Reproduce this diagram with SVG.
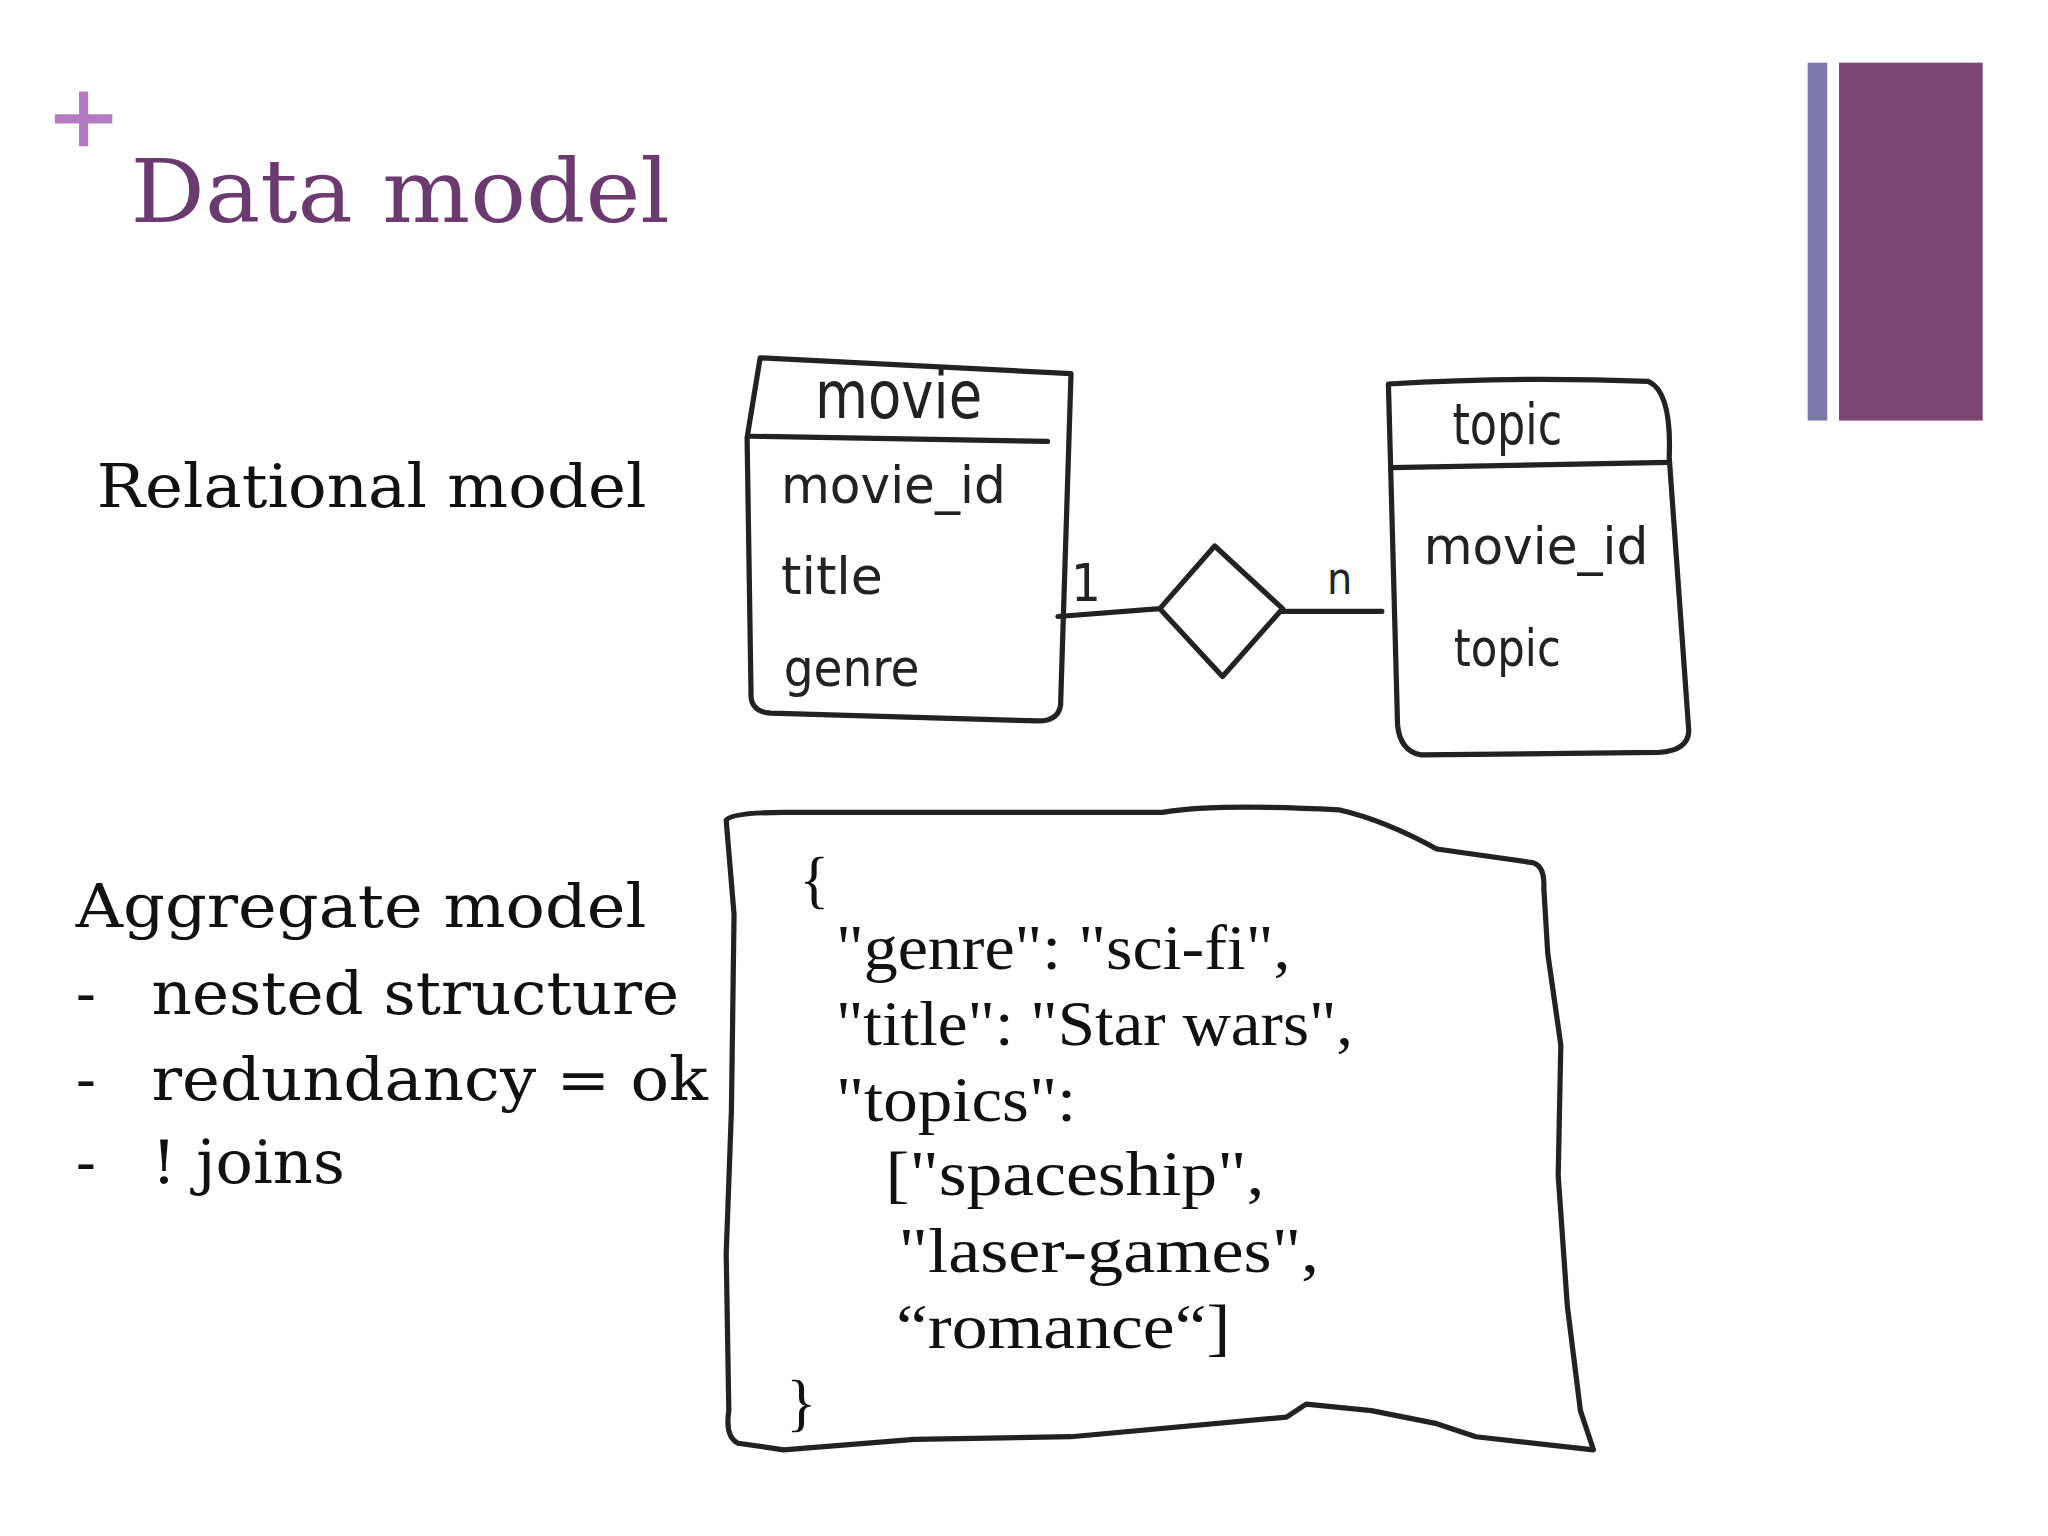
<svg xmlns="http://www.w3.org/2000/svg" width="2048" height="1536" viewBox="0 0 2048 1536">
<style>
.t{font-family:"DejaVu Serif",serif;fill:#111}
.j{font-family:"Liberation Serif",serif;fill:#111}
.h{font-family:"DejaVu Sans Condensed","DejaVu Sans",sans-serif;fill:#222}
.s{fill:none;stroke:#222;stroke-width:4;stroke-linejoin:round;stroke-linecap:round}
</style>
<rect width="2048" height="1536" fill="#fff"/>
<g transform="scale(1.30612)">
<g id="header">
<path d="M64 70V112M42 91H86" stroke="#b679c4" stroke-width="7"/>
<text x="100" y="170" class="t" style="fill:#6b3a6e;font-size:68px" textLength="413" lengthAdjust="spacingAndGlyphs">Data model</text>
<rect x="1384" y="48" width="15" height="274" fill="#7b7aab"/>
<rect x="1408" y="48" width="110" height="274" fill="#7b4673"/>
</g>
<g id="labels" class="t" font-size="46">
<text x="74" y="388" textLength="421" lengthAdjust="spacingAndGlyphs">Relational model</text>
<text x="58" y="710" textLength="437" lengthAdjust="spacingAndGlyphs">Aggregate model</text>
<text x="58" y="776">-</text><text x="116" y="776" textLength="404" lengthAdjust="spacingAndGlyphs">nested structure</text>
<text x="58" y="842">-</text><text x="116" y="842" textLength="426" lengthAdjust="spacingAndGlyphs">redundancy = ok</text>
<text x="58" y="906">-</text><text x="116" y="906" textLength="148" lengthAdjust="spacingAndGlyphs">! joins</text>
</g>
<g id="movie">
<path class="s" d="M582 274L820 286L812 540Q810 552 795 552L590 546Q574 545 575 530L572 335L582 274Z"/>
<path class="s" d="M574 334L802 338"/>
<text x="624" y="320" class="h" font-size="50" textLength="128" lengthAdjust="spacingAndGlyphs">movie</text>
<text x="598" y="385" class="h" font-size="40" textLength="172" lengthAdjust="spacingAndGlyphs">movie_id</text>
<text x="598" y="455" class="h" font-size="40" textLength="78" lengthAdjust="spacingAndGlyphs">title</text>
<text x="600" y="525" class="h" font-size="40" textLength="104" lengthAdjust="spacingAndGlyphs">genre</text>
</g>
<g id="topic">
<path class="s" d="M1063 294Q1160 288 1262 292Q1280 300 1278 350L1293 560Q1292 575 1270 576L1088 578Q1072 575 1070 555L1063 294Z"/>
<path class="s" d="M1065 358L1278 354"/>
<text x="1112" y="340" class="h" font-size="44" textLength="84" lengthAdjust="spacingAndGlyphs">topic</text>
<text x="1090" y="432" class="h" font-size="40" textLength="172" lengthAdjust="spacingAndGlyphs">movie_id</text>
<text x="1113" y="510" class="h" font-size="40" textLength="82" lengthAdjust="spacingAndGlyphs">topic</text>
</g>
<g id="connectors">
<path class="s" d="M810 472L888 466L930 418L982 466L936 518L888 466M982 468L1058 468"/>
<text x="820" y="460" class="h" font-size="40">1</text>
<text x="1016" y="455" class="h" font-size="34">n</text>
</g>
<g id="json">
<path class="s" d="M556 628Q560 622 600 622L890 622Q930 615 1025 620Q1060 628 1100 650L1170 660Q1183 660 1182 680L1185 730L1195 800L1193 900L1200 1000L1210 1080L1220 1110L1130 1100L1100 1090L1050 1080L1000 1075L985 1085L820 1100L700 1102L600 1110L565 1105Q555 1100 558 1080L556 960L560 850L562 700L556 628Z"/>
<g class="j" font-size="48">
<text x="612" y="690">{</text>
<text x="640" y="742" textLength="348" lengthAdjust="spacingAndGlyphs">"genre": "sci-fi",</text>
<text x="640" y="800" textLength="396" lengthAdjust="spacingAndGlyphs">"title": "Star wars",</text>
<text x="640" y="858" textLength="184" lengthAdjust="spacingAndGlyphs">"topics":</text>
<text x="678" y="915" textLength="290" lengthAdjust="spacingAndGlyphs">["spaceship",</text>
<text x="688" y="974" textLength="322" lengthAdjust="spacingAndGlyphs">"laser-games",</text>
<text x="686" y="1032" textLength="256" lengthAdjust="spacingAndGlyphs">“romance“]</text>
<text x="602" y="1090">}</text>
</g>
</g>
</g>
</svg>
